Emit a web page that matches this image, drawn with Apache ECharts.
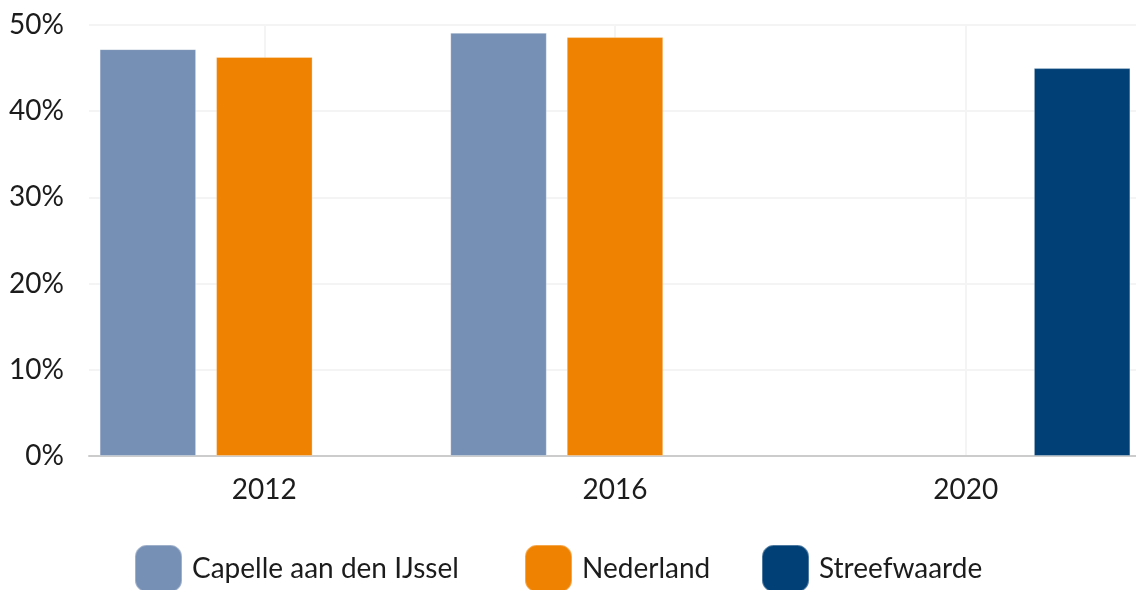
<!DOCTYPE html>
<html>
<head>
<meta charset="utf-8">
<script src="https://cdn.jsdelivr.net/npm/echarts@6/dist/echarts.min.js"></script>
<style>
  html, body { margin: 0; padding: 0; background: #ffffff; }
  #chart { width: 1136px; height: 590px; }
</style>
</head>
<body>
<div id="chart"></div>
<script>
// Years on the category axis
const years = ['2012', '2016', '2020'];

// Percentages per series (null where a series has no value for that year)
const capelle = [47.2, 49.1, null];
const nederland = [46.3, 48.6, null];
const streefwaarde = [null, null, 45];

// Value axis range and step
const yMin = 0;
const yMax = 50;
const yStep = 10;

const seriesNames = ['Capelle aan den IJssel', 'Nederland', 'Streefwaarde'];
const seriesColors = ['#768fb4', '#ef8200', '#004077'];
const seriesData = [capelle, nederland, streefwaarde];

// Horizontal start of each legend entry
const legendLeft = [129, 519, 756];

const fontFamily = 'Lato, "Noto Sans", sans-serif';
const textColor = '#1c1c1c';

const chart = echarts.init(document.getElementById('chart'), null, { renderer: 'canvas' });

chart.setOption({
  animation: false,
  backgroundColor: '#ffffff',
  grid: {
    left: 89,
    top: 25,
    right: -5,
    bottom: 134,
    containLabel: false,
    outerBoundsMode: 'none'
  },
  legend: seriesNames.map((name, i) => ({
    left: legendLeft[i],
    top: 539,
    itemWidth: 47,
    itemHeight: 47,
    icon: 'roundRect',
    selectedMode: false,
    textStyle: {
      fontFamily: fontFamily,
      fontSize: 28,
      color: textColor,
      padding: [0, 0, 0, 5]
    },
    data: [name]
  })),
  xAxis: {
    type: 'category',
    data: years,
    axisLine: { show: true, lineStyle: { color: '#cccccc', width: 2 } },
    axisTick: { show: false },
    axisLabel: {
      fontFamily: fontFamily,
      fontSize: 28,
      color: textColor,
      margin: 20
    },
    splitLine: {
      show: true,
      alignWithLabel: true,
      lineStyle: { color: '#f4f4f4', width: 2 }
    }
  },
  yAxis: {
    type: 'value',
    min: yMin,
    max: yMax,
    interval: yStep,
    axisLine: { show: false },
    axisTick: { show: false },
    axisLabel: {
      formatter: '{value}%',
      fontFamily: fontFamily,
      fontSize: 28,
      color: textColor,
      margin: 25
    },
    splitLine: { show: true, lineStyle: { color: '#f4f4f4', width: 2 } }
  },
  series: seriesNames.map((name, i) => ({
    name: name,
    type: 'bar',
    data: seriesData[i],
    barGap: '20.7%',
    barCategoryGap: '6.05%',
    itemStyle: {
      color: seriesColors[i],
      borderColor: 'rgba(255,255,255,0.3)',
      borderWidth: 1
    },
    emphasis: { disabled: true }
  }))
});
</script>
</body>
</html>
